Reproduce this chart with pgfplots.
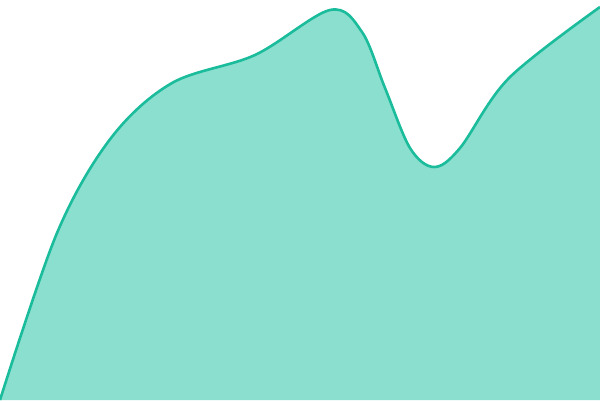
\documentclass[border=0pt]{standalone}
\usepackage{pgfplots}
\pgfplotsset{compat=1.18}
\definecolor{linegreen}{HTML}{1ABC9C}
\definecolor{fillgreen}{HTML}{8ADFCE}
\pgfplotstableread{
x y
0 0
57 167
111 262
172 317
255 345
330 390
362 368
385 312
410 252
434 233
460 252
509 322
600 393
}\curve
\begin{document}
\begin{tikzpicture}
\begin{axis}[
  scale only axis,
  width=600bp, height=400bp,
  xmin=0, xmax=600, ymin=0, ymax=400,
  hide axis,
  clip=true,
]
\addplot[draw=none, fill=fillgreen, smooth, tension=0.55] table {\curve} \closedcycle;
\addplot[color=linegreen, line width=2.6bp, smooth, tension=0.55] table {\curve};
\end{axis}
\pgfresetboundingbox
\useasboundingbox (current axis.south west) rectangle (current axis.north east);
\end{tikzpicture}
\end{document}
